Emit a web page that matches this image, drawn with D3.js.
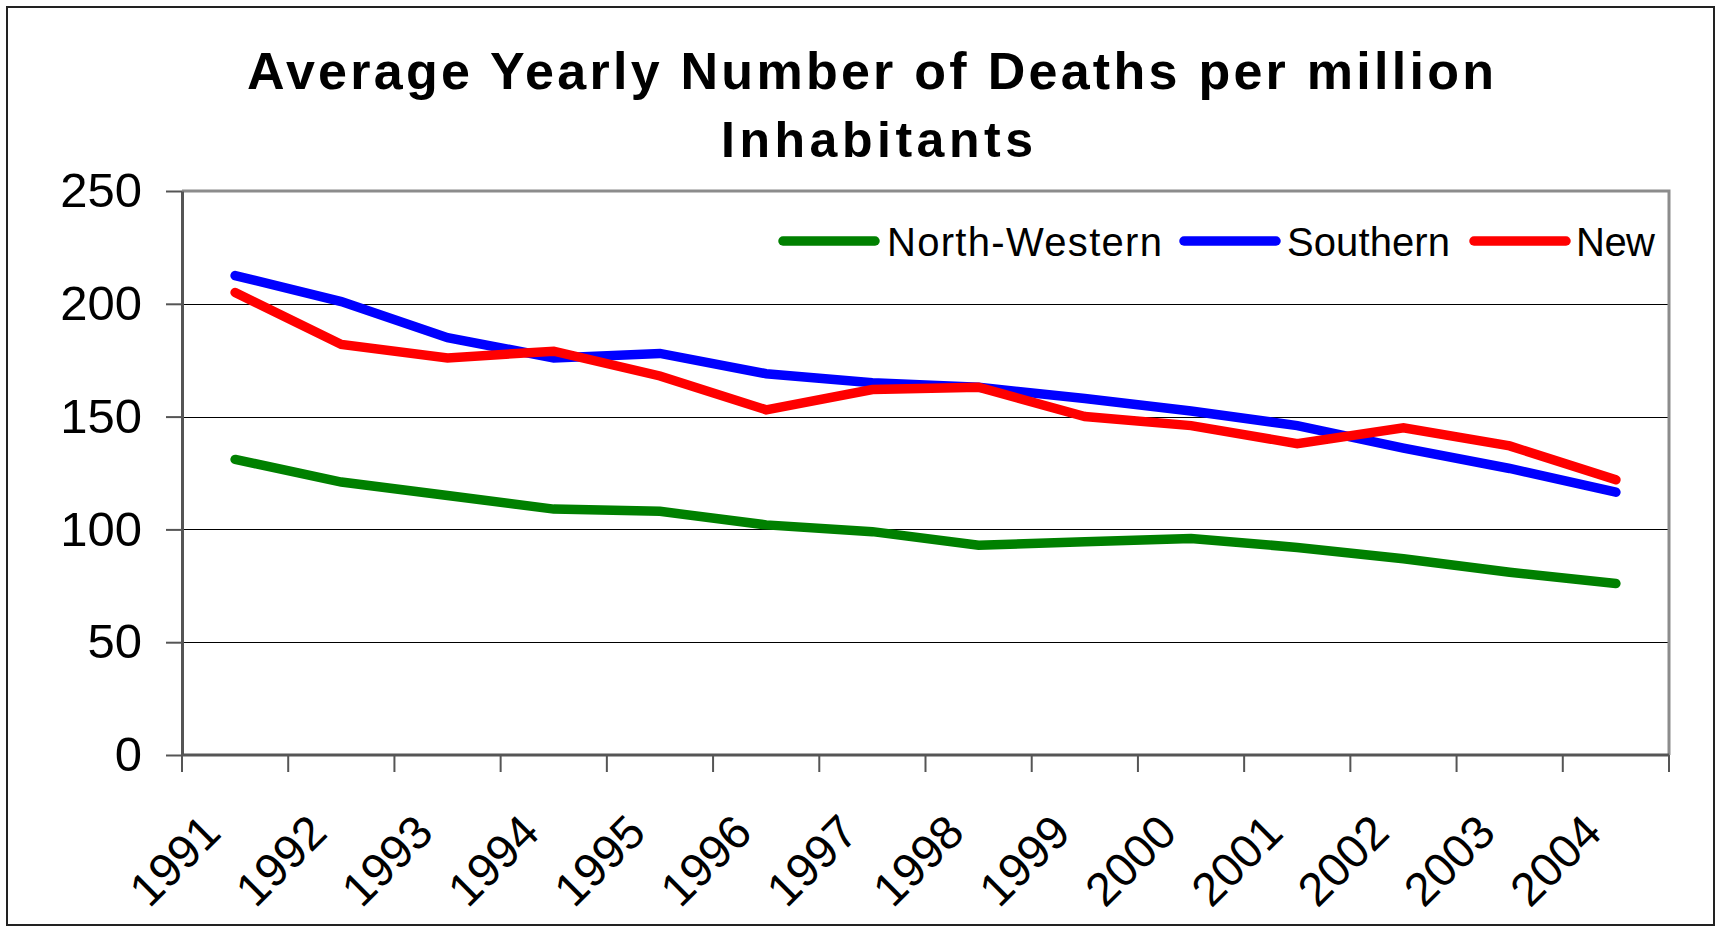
<!DOCTYPE html>
<html>
<head>
<meta charset="utf-8">
<script src="https://cdn.jsdelivr.net/npm/d3@7"></script>
<style>
  body { margin: 0; background: #fff; }
  svg { display: block; font-family: Arial, "Liberation Sans", sans-serif; }
</style>
</head>
<body>
<div id="chart"></div>
<script>
var years = ["1991","1992","1993","1994","1995","1996","1997","1998","1999","2000","2001","2002","2003","2004"];
var northWestern = [131, 121, 115, 109, 108, 102, 99, 93, 94.5, 96, 92, 87, 81, 76];
var southern = [212.5, 201, 185, 176, 178, 169, 165, 163, 158, 152.5, 146, 136, 127, 116.5];
var newStates = [205, 182, 176, 179, 168, 153, 162, 163, 150, 146, 138, 145, 137, 122];
var yTicks = [0, 50, 100, 150, 200, 250];

var series = [
  {name: "North-Western", color: "#008000", values: northWestern},
  {name: "Southern", color: "#0000ff", values: southern},
  {name: "New", color: "#ff0000", values: newStates}
];

var W = 1720, H = 929;
var mLeft = 182, mRight = 1669, mTop = 191, mBottom = 755;

var svg = d3.select("#chart").append("svg")
  .attr("width", W)
  .attr("height", H);

// outer frame
svg.append("rect")
  .attr("x", 7).attr("y", 7)
  .attr("width", 1707).attr("height", 918)
  .attr("fill", "#fff")
  .attr("stroke", "#222")
  .attr("stroke-width", 2);

// title, stretched like the original
svg.append("text")
  .attr("x", 247).attr("y", 89)
  .attr("font-weight", "bold")
  .attr("font-size", 52)
  .attr("textLength", 1247)
  .attr("lengthAdjust", "spacing")
  .text("Average Yearly Number of Deaths per million");
svg.append("text")
  .attr("x", 721).attr("y", 157)
  .attr("font-weight", "bold")
  .attr("font-size", 50)
  .attr("textLength", 312)
  .attr("lengthAdjust", "spacing")
  .text("Inhabitants");

var x = d3.scaleBand().domain(years).range([mLeft, mRight]);
var y = d3.scaleLinear().domain([0, 250]).range([mBottom, mTop]);

// gridlines
svg.append("g")
  .selectAll("line")
  .data(yTicks.filter(function(d) { return d > 0 && d < 250; }))
  .enter().append("line")
  .attr("x1", mLeft).attr("x2", mRight)
  .attr("y1", function(d) { return Math.round(y(d)) + 0.5; })
  .attr("y2", function(d) { return Math.round(y(d)) + 0.5; })
  .attr("stroke", "#000")
  .attr("stroke-width", 1.2);

// plot border (top / right)
svg.append("path")
  .attr("d", "M" + mLeft + "," + mTop + "H" + mRight + "V" + mBottom)
  .attr("fill", "none")
  .attr("stroke", "#8c8c8c")
  .attr("stroke-width", 3);

// y axis
var yAxis = svg.append("g")
  .attr("transform", "translate(" + mLeft + ",0)")
  .call(d3.axisLeft(y).tickValues(yTicks).tickSize(16).tickSizeOuter(0).tickPadding(24));
yAxis.selectAll("text")
  .attr("font-size", 49)
  .attr("font-family", "Arial, 'Liberation Sans', sans-serif")
  .attr("fill", "#000");
yAxis.selectAll("line").attr("stroke", "#555").attr("stroke-width", 2);
yAxis.select(".domain").attr("stroke", "#555").attr("stroke-width", 3);

// x axis: ticks between categories
var xAxis = svg.append("g")
  .attr("transform", "translate(0," + mBottom + ")");
xAxis.append("line")
  .attr("x1", mLeft).attr("x2", mRight)
  .attr("stroke", "#555").attr("stroke-width", 3);
xAxis.selectAll(".tk")
  .data(years.concat(["end"]))
  .enter().append("line")
  .attr("class", "tk")
  .attr("x1", function(d, i) { return i < years.length ? x(d) : mRight; })
  .attr("x2", function(d, i) { return i < years.length ? x(d) : mRight; })
  .attr("y1", 0).attr("y2", 17)
  .attr("stroke", "#555").attr("stroke-width", 2);
xAxis.selectAll(".lbl")
  .data(years)
  .enter().append("text")
  .attr("class", "lbl")
  .attr("text-anchor", "end")
  .attr("font-size", 47)
  .attr("transform", function(d) {
    return "translate(" + (x(d) + x.bandwidth() / 2 - 12) + ",80) rotate(-45)";
  })
  .text(function(d) { return d; });

// lines
var line = d3.line()
  .x(function(d, i) { return x(years[i]) + x.bandwidth() / 2; })
  .y(function(d) { return y(d); });

svg.append("g").selectAll("path")
  .data(series)
  .enter().append("path")
  .attr("d", function(s) { return line(s.values); })
  .attr("fill", "none")
  .attr("stroke", function(s) { return s.color; })
  .attr("stroke-width", 9.5)
  .attr("stroke-linecap", "round")
  .attr("stroke-linejoin", "miter");

// legend
var legendPos = [
  {sx: 778, tx: 887, tw: 275},
  {sx: 1179, tx: 1287, tw: 163},
  {sx: 1469, tx: 1576, tw: 79}
];
var legend = svg.append("g");
series.forEach(function(s, i) {
  var p = legendPos[i];
  legend.append("line")
    .attr("x1", p.sx + 5).attr("x2", p.sx + 97)
    .attr("y1", 241).attr("y2", 241)
    .attr("stroke", s.color)
    .attr("stroke-width", 9.5)
    .attr("stroke-linecap", "round");
  legend.append("text")
    .attr("x", p.tx).attr("y", 256)
    .attr("font-size", 40)
    .attr("textLength", p.tw)
    .attr("lengthAdjust", "spacing")
    .text(s.name);
});
</script>
</body>
</html>
